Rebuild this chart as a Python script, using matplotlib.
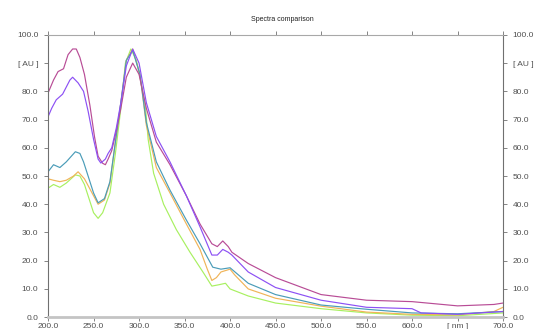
import matplotlib.pyplot as plt
import numpy as np

plt.rcParams['font.family'] = ['Liberation Sans', 'DejaVu Sans']

# wavelengths (nm) and absorbance (AU)
wl_pink = [200, 206, 211, 217, 222, 227, 231, 235, 240, 246, 251, 255, 260, 263, 266, 270, 275, 280, 286, 293,
           300, 308, 319, 334, 352, 367, 380, 386, 392, 398, 402, 420, 450, 500, 550, 600, 650, 690, 700]
ab_pink = [79.4, 84, 87, 88, 93, 95, 95, 92, 86, 75, 64, 57, 54.5, 54, 56, 59, 66, 74, 85, 90,
           86, 74, 62, 54, 43, 33, 26, 25, 27, 25, 23, 19, 14, 8, 6, 5.5, 4, 4.5, 5]

wl_purple = [200, 204, 209, 216, 224, 227, 233, 239, 244, 250, 255, 258, 263, 266, 270, 275, 280, 286, 293,
             300, 308, 319, 334, 352, 367, 380, 386, 392, 398, 402, 420, 450, 500, 550, 600, 610, 650, 700]
ab_purple = [71, 74, 77, 79, 84, 85, 83, 80, 73, 63, 56, 54.6, 56, 58, 60, 67, 76, 89, 95,
             90, 76, 64, 55, 43, 32, 22, 22, 24, 23, 22, 16, 10.5, 6, 3.5, 3, 1.5, 1, 2]

wl_teal = [200, 206, 213, 220, 230, 235, 239, 245, 250, 255, 262, 268, 274, 280, 286, 293,
           301, 308, 319, 334, 352, 367, 381, 390, 400, 420, 450, 500, 550, 600, 650, 700]
ab_teal = [51.5, 54, 53, 55, 58.6, 58, 55, 49, 44, 40.5, 42, 48, 62, 76, 91, 94.5,
           86, 69, 55, 45, 34.4, 26, 17.7, 17, 17.5, 12, 8, 4.3, 2.8, 1.5, 1.2, 2]

wl_orange = [200, 206, 213, 220, 228, 233, 240, 245, 250, 255, 262, 268, 274, 280, 286, 293,
             301, 308, 319, 334, 352, 367, 375, 380, 385, 390, 400, 405, 420, 450, 500, 550, 600, 650, 690, 700]
ab_orange = [49, 48.5, 48, 48.5, 50, 51.5, 49, 46, 43, 40, 41.5, 47.5, 62, 76, 91, 95,
             86, 68, 53, 44, 33, 24, 17, 13, 14, 16, 17, 15, 10, 6.7, 3.9, 1.8, 1, 0.8, 2, 3.5]

wl_green = [200, 206, 213, 220, 230, 235, 240, 245, 250, 255, 260, 268, 274, 280, 285, 291,
            297, 301, 307, 310, 316, 327, 341, 356, 371, 380, 388, 395, 400, 420, 450, 500, 550, 600, 650, 700]
ab_green = [45.7, 47, 46, 47.5, 50.4, 50, 47, 42, 37, 35, 37, 44, 58, 74, 90, 95,
            91, 85, 74.6, 63, 51, 40, 31, 23, 15.6, 11, 11.5, 12, 10, 7.5, 5, 3, 1.5, 0.7, 0.5, 1.5]

series = [
    (wl_green, ab_green, '#a8f060'),
    (wl_orange, ab_orange, '#f0b458'),
    (wl_teal, ab_teal, '#4a9cb8'),
    (wl_pink, ab_pink, '#b84c96'),
    (wl_purple, ab_purple, '#8c50f4'),
]

y_ticks = np.arange(0, 101, 10)
y_labels = ['0.0', '10.0', '20.0', '30.0', '40.0', '50.0', '60.0', '70.0', '80.0', '[ AU ]', '100.0']
x_ticks = np.arange(200, 701, 50)
x_labels = ['200.0', '250.0', '300.0', '350.0', '400.0', '450.0', '500.0', '550.0', '600.0', '[ nm ]', '700.0']

fig = plt.figure(figsize=(5.34, 3.29), dpi=100)
ax = fig.add_axes([0.09, 0.036, 0.852, 0.858])

for wl, ab, col in series:
    ax.plot(wl, ab, color=col, linewidth=0.85)

ax.set_xlim(200, 700)
ax.set_ylim(0, 100)

ax.set_yticks(y_ticks)
ax.set_yticklabels(y_labels)
ax.set_xticks(x_ticks)
ax.set_xticklabels(x_labels)

ax.tick_params(axis='both', labelsize=6, labelcolor='#505050', colors='#707070',
               length=3, width=0.6)
ax.tick_params(axis='y', right=True, labelright=True, pad=4)
ax.tick_params(axis='x', top=True, labeltop=False, pad=1.5)

ax.spines['left'].set_color('#707070')
ax.spines['right'].set_color('#707070')
ax.spines['top'].set_color('#a8a8a8')
ax.spines['bottom'].set_color('#c4c4c4')
ax.spines['bottom'].set_linewidth(2)
for s in ['left', 'right', 'top']:
    ax.spines[s].set_linewidth(0.8)

fig.text(0.528, 0.94, 'Spectra comparison', ha='center', va='center', fontsize=5, color='#202020')

fig.savefig('out.png', dpi=100)
